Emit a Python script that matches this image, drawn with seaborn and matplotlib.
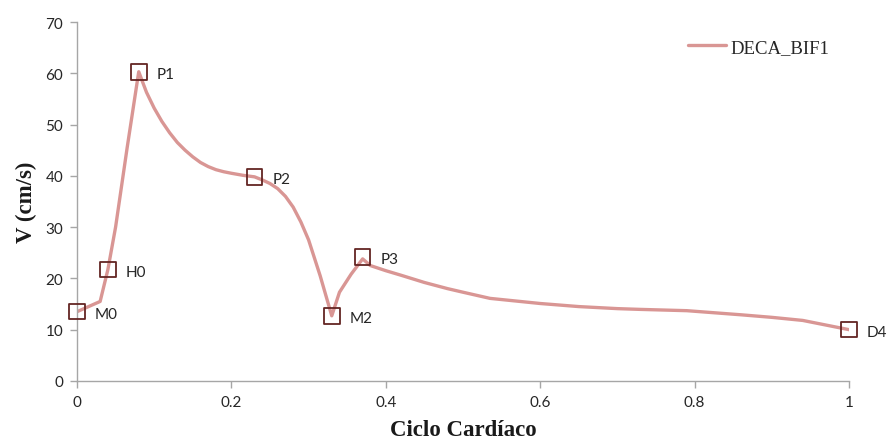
import matplotlib
matplotlib.use("Agg")
import matplotlib.pyplot as plt
import seaborn as sns
import pandas as pd

# Velocity over one cardiac cycle
ciclo = [0.0, 0.03, 0.04, 0.05, 0.065, 0.08, 0.085, 0.09, 0.10, 0.11, 0.12, 0.13,
         0.14, 0.15, 0.16, 0.17, 0.18, 0.19, 0.20, 0.215, 0.23, 0.24, 0.25, 0.26,
         0.27, 0.28, 0.29, 0.30, 0.315, 0.33, 0.34, 0.355, 0.37, 0.38,
         0.40, 0.42, 0.45, 0.48, 0.50, 0.535, 0.60, 0.65, 0.70, 0.73, 0.79, 0.86,
         0.90, 0.94, 1.0]
velocidad = [13.5, 15.5, 21.7, 30.0, 45.5, 60.3, 58.3, 56.3, 53.2, 50.6, 48.4, 46.5,
             45.0, 43.7, 42.6, 41.8, 41.2, 40.8, 40.5, 40.1, 39.8, 39.2, 38.5, 37.5,
             36.0, 33.9, 31.0, 27.5, 20.5, 12.7, 17.3, 20.8, 23.8, 22.5,
             21.5, 20.6, 19.2, 18.0, 17.3, 16.1, 15.1, 14.5, 14.1, 13.95, 13.7, 12.9,
             12.4, 11.8, 10.0]

# Labelled reference points
puntos = ["M0", "H0", "P1", "P2", "M2", "P3", "D4"]
puntos_t = [0.0, 0.04, 0.08, 0.23, 0.33, 0.37, 1.0]
puntos_v = [13.5, 21.7, 60.3, 39.8, 12.7, 24.2, 10.0]

serie = "DECA_BIF1"

df = pd.DataFrame({"Ciclo": ciclo, "V": velocidad, "serie": serie})
dp = pd.DataFrame({"t": puntos_t, "v": puntos_v, "nombre": puntos})

sns.set_style("white")
plt.rcParams["font.family"] = ["Lato", "DejaVu Sans"]

fig = plt.figure(figsize=(8.91, 4.39), dpi=100)
ax = fig.add_axes([0.0864, 0.130, 0.8665, 0.8176])

line_color = "#d99694"
mark_color = "#632523"

sns.lineplot(data=df, x="Ciclo", y="V", hue="serie", palette=[line_color],
             linewidth=2.4, ax=ax, legend=True)
sns.scatterplot(data=dp, x="t", y="v", marker="s", s=125, facecolor="none",
                edgecolor=mark_color, linewidth=1.3, ax=ax, legend=False,
                zorder=5, clip_on=False)

for n, t, v in zip(puntos, puntos_t, puntos_v):
    ax.annotate(n, (t, v), xytext=(13, -1.5), textcoords="offset points",
                fontsize=11, color="#262626", va="center", ha="left")

ax.set_xlim(0, 1)
ax.set_ylim(0, 70)
ax.set_xticks([0, 0.2, 0.4, 0.6, 0.8, 1.0])
ax.set_xticklabels(["0", "0.2", "0.4", "0.6", "0.8", "1"])
ax.set_yticks(range(0, 71, 10))

for s in ["top", "right"]:
    ax.spines[s].set_visible(False)
for s in ["left", "bottom"]:
    ax.spines[s].set_color("#a6a6a6")
    ax.spines[s].set_linewidth(1.0)
ax.tick_params(axis="both", direction="out", length=5, width=1.0,
               color="#a6a6a6", labelsize=11, labelcolor="#262626",
               left=True, bottom=True, pad=5)

serif = ["Liberation Serif", "DejaVu Serif"]
ax.set_xlabel("Ciclo Cardíaco", family=serif, fontsize=16.5, fontweight="bold",
              color="#1a1a1a", labelpad=7)
ax.set_ylabel("V (cm/s)", family=serif, fontsize=16.5, fontweight="bold",
              color="#1a1a1a", labelpad=6)

leg = ax.legend(loc="upper left", bbox_to_anchor=(0.77, 1.0), frameon=False,
                handlelength=2.0, handletextpad=0.25,
                prop={"family": serif, "size": 13.5})
leg.set_title(None)

fig.savefig("out.png", dpi=100)
